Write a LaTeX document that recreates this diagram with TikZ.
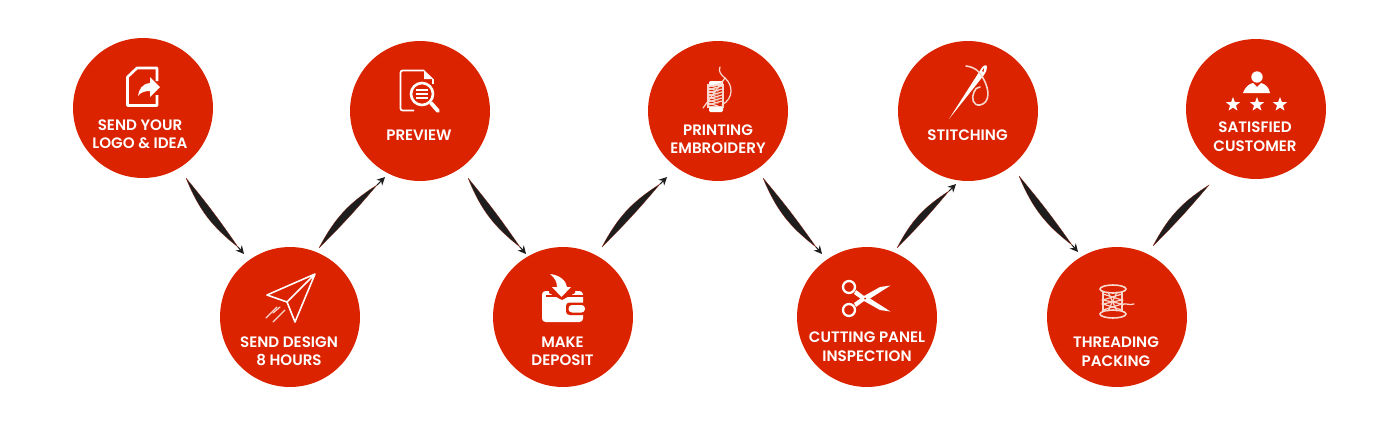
\documentclass[tikz,border=0pt]{standalone}
\usepackage{fontspec}
\setmainfont{Poppins}[BoldFont={Poppins SemiBold}]
\usetikzlibrary{arrows.meta,shapes.geometric}
\definecolor{stepred}{HTML}{DC2300}
\definecolor{swooshblack}{HTML}{1E1E1E}
\definecolor{threadpink}{HTML}{F8D8CE}
\begin{document}
\begin{tikzpicture}[x=0.02cm,y=-0.02cm,
  stepv/.style={circle, fill=stepred, minimum size=2.8cm, inner sep=0pt},
  stepl/.style={text=white, align=center, inner sep=0pt, font=\fontsize{8.6}{10.5}\selectfont\bfseries},
  swoosh/.style={fill=swooshblack, draw=stepred!70!black, line width=0.1pt},
  swooshtip/.style={draw=swooshblack, line width=0.6pt, -{Stealth[length=4.6pt,width=4.6pt]}},
  iconl/.style={draw=white, line width=1.5pt, line join=round},
  iconf/.style={fill=white},
  iconthin/.style={draw=threadpink, line width=0.7pt, line cap=round},
  iconstar/.style={star, star points=5, star point ratio=2.4, fill=white, minimum size=0.3cm, inner sep=0pt}]
  \useasboundingbox (0,0) rectangle (1400,440);

  \node[stepv] (send) at (143,108) {};
  \node[stepv] (design) at (290,317) {};
  \node[stepv] (preview) at (420,111) {};
  \node[stepv] (deposit) at (563,317) {};
  \node[stepv] (printing) at (718,111) {};
  \node[stepv] (cutting) at (867,317) {};
  \node[stepv] (stitching) at (968,111) {};
  \node[stepv] (threading) at (1117,317) {};
  \node[stepv] (satisfied) at (1256,109) {};

  \node[stepl] (lsend) at (140,134) {SEND YOUR\\LOGO \& IDEA};
  \node[stepl] (ldesign) at (289,351.5) {SEND DESIGN\\8 HOURS};
  \node[stepl] (lpreview) at (419,135) {PREVIEW};
  \node[stepl] (ldeposit) at (562.5,351.5) {MAKE\\DEPOSIT};
  \node[stepl] (lprinting) at (718,139) {PRINTING\\EMBROIDERY};
  \node[stepl] (lcutting) at (867,346.5) {CUTTING PANEL\\INSPECTION};
  \node[stepl] (lstitching) at (967.5,135) {STITCHING};
  \node[stepl] (lthreading) at (1116,351.5) {THREADING\\PACKING};
  \node[stepl] (lsatisfied) at (1255,136.5) {SATISFIED\\CUSTOMER};

  % connectors going down
  \coordinate (s1) at ([shift={(43,70)}]send.center);
  \coordinate (e1) at ([shift={(-52,-70)}]design.center);
  \coordinate (t1) at ([shift={(-46,-63)}]design.center);
  \fill[swoosh] (s1) to[bend right=15] (e1) to[bend right=2.5] (s1);
  \draw[swooshtip] (e1) -- (t1);

  \coordinate (s2) at ([shift={(48,67)}]preview.center);
  \coordinate (e2) at ([shift={(-43,-70)}]deposit.center);
  \coordinate (t2) at ([shift={(-37,-63)}]deposit.center);
  \fill[swoosh] (s2) to[bend right=15] (e2) to[bend right=2.5] (s2);
  \draw[swooshtip] (e2) -- (t2);

  \coordinate (s3) at ([shift={(45,67)}]printing.center);
  \coordinate (e3) at ([shift={(-51,-70)}]cutting.center);
  \coordinate (t3) at ([shift={(-45,-63)}]cutting.center);
  \fill[swoosh] (s3) to[bend right=15] (e3) to[bend right=2.5] (s3);
  \draw[swooshtip] (e3) -- (t3);

  \coordinate (s4) at ([shift={(51,65)}]stitching.center);
  \coordinate (e4) at ([shift={(-45,-72)}]threading.center);
  \coordinate (t4) at ([shift={(-39,-65)}]threading.center);
  \fill[swoosh] (s4) to[bend right=15] (e4) to[bend right=2.5] (s4);
  \draw[swooshtip] (e4) -- (t4);

  % connectors going up
  \coordinate (s5) at ([shift={(29,-69)}]design.center);
  \coordinate (e5) at ([shift={(-43,74)}]preview.center);
  \coordinate (t5) at ([shift={(-35,66)}]preview.center);
  \fill[swoosh] (s5) to[bend left=15] (e5) to[bend left=2.5] (s5);
  \draw[swooshtip] (e5) -- (t5);

  \coordinate (s6) at ([shift={(39,-70)}]deposit.center);
  \coordinate (e6) at ([shift={(-58,73)}]printing.center);
  \coordinate (t6) at ([shift={(-51,66)}]printing.center);
  \fill[swoosh] (s6) to[bend left=15] (e6) to[bend left=2.5] (s6);
  \draw[swooshtip] (e6) -- (t6);

  \coordinate (s7) at ([shift={(30,-69)}]cutting.center);
  \coordinate (e7) at ([shift={(-19,80)}]stitching.center);
  \coordinate (t7) at ([shift={(-12,73)}]stitching.center);
  \fill[swoosh] (s7) to[bend left=15] (e7) to[bend left=2.5] (s7);
  \draw[swooshtip] (e7) -- (t7);

  \coordinate (s8) at ([shift={(36,-71)}]threading.center);
  \coordinate (e8) at ([shift={(-47,76)}]satisfied.center);
  \fill[swoosh] (s8) to[bend left=15] (e8) to[bend left=2.5] (s8);

  % send icon
  \draw[iconl] (157,81) -- (157,68) -- (137,68) -- (127.5,77) -- (127.5,105.5) -- (157,105.5) -- (157,95);
  \fill[iconf] (160,87) -- (150,77) -- (150,83) .. controls (142,84) and (139,89) .. (138,96) .. controls (141,92) and (145,91) .. (150,91) -- (150,97) -- cycle;

  % plane icon
  \draw[iconl, line width=0.9pt] (315,274) -- (267,295) -- (287,302) -- (315,274) -- (295,322) -- (287,302);
  \draw[iconthin] (266,318) -- (277,307);
  \draw[iconthin] (273,322) -- (285,310);
  \draw[iconthin] (273,313) -- (280,307);

  % preview icon
  \draw[iconl, line width=1pt, rounded corners=1.2pt] (424,70.5) -- (400.5,70.5) -- (400.5,110.5) -- (414,110.5);
  \draw[iconl, line width=1pt] (433,84) -- (433,79);
  \fill[iconf] (424,70) -- (433.5,79) -- (424,79) -- cycle;
  \draw[iconl] (422,94) circle (11);
  \draw[iconl, line width=2.2pt, line cap=round] (431,103) -- (438,111);
  \foreach \ly in {90,94,98} {
    \draw[iconl, line width=0.8pt] (416,\ly) -- (428,\ly);
  }

  % wallet icon
  \fill[iconf, rounded corners=2pt] (542,291) rectangle (583,322);
  \draw[stepred, line width=0.8pt] (546,296) -- (583.5,296);
  \fill[stepred] (549,287) -- (575,287) -- (575,293) -- (562,300) -- (549,293) -- cycle;
  \fill[iconf] (550,274) .. controls (559,275) and (566,280) .. (567,287) -- (571,287) -- (561.5,297) -- (552,287) -- (557,287) .. controls (557,282) and (555,278) .. (550,274) -- cycle;
  \fill[stepred, rounded corners=2pt] (566,302.5) rectangle (586,315);
  \fill[iconf, rounded corners=2pt] (568.5,305) rectangle (585,312.5);

  % spool with needle icon
  \draw[iconthin] (708,85) rectangle (723,107);
  \fill[iconf, rounded corners=0.8pt] (709,81) rectangle (723,85);
  \fill[iconf, rounded corners=0.8pt] (709,107) rectangle (723,112);
  \foreach \ly in {87,90,...,107} {
    \draw[iconthin] (708,\ly) -- (722,\ly-4);
    \draw[iconthin] (708,\ly-2) -- (718,\ly+1);
  }
  \draw[iconthin] (703,108) -- (725,78);
  \draw[iconthin] (720,67) .. controls (718,71) and (721,75) .. (725,78) .. controls (733,85) and (734,98) .. (722,105);

  % scissors icon
  \draw[iconl, line width=1.3pt] (849,287) circle (6);
  \draw[iconl, line width=1.3pt] (849,310) circle (6);
  \fill[iconf] (854,303) -- (864,296) -- (880,287) -- (890.5,285.5) -- (870,298.5) -- (864,301) -- (856,307) -- cycle;
  \fill[iconf] (854,294) -- (864,301) -- (880,310) -- (890.5,311.5) -- (870,298.5) -- (864,296) -- (856,290) -- cycle;
  \fill[stepred] (865,298.5) circle (1);

  % needle icon
  \fill[iconf] (949,119) -- (981,69) .. controls (983,65) and (987,64) .. (987,67) .. controls (987,70) and (986,72) .. (984,75) -- cycle;
  \fill[stepred] (982,71) -- (984,68) -- (983.5,72) -- cycle;
  \draw[iconthin, line width=0.9pt] (966,66) .. controls (975,67) and (980,72) .. (983,78) .. controls (990,90) and (990,103) .. (980,105) .. controls (973,106) and (971,98) .. (974,92) .. controls (975,89) and (977,87) .. (980,87);

  % thread spool icon
  \draw[iconthin, line width=0.9pt] (1113,289) ellipse (13 and 4);
  \draw[iconthin, line width=0.9pt] (1113,314) ellipse (13 and 4);
  \draw[iconthin] (1103,292) -- (1103,311);
  \draw[iconthin] (1122,292) -- (1122,311);
  \draw[iconthin] (1103,294) -- (1122,300) -- (1103,304) -- (1122,310);
  \draw[iconthin] (1122,294) -- (1103,300) -- (1122,304) -- (1103,310);
  \draw[iconthin] (1108,292) -- (1117,311);
  \draw[iconthin] (1117,292) -- (1108,311);
  \draw[iconthin] (1122,305) .. controls (1126,302) and (1128,306) .. (1134,304);

  % customer icon
  \fill[iconf] (1257,77) circle (5.7);
  \fill[iconf] (1243,93) .. controls (1245,87) and (1249,84) .. (1253,83) -- (1257,87) -- (1261,83) .. controls (1265,84) and (1269,87) .. (1270,93) -- cycle;
  \foreach \sx in {1233,1257,1280} {
    \node[iconstar] (star\sx) at (\sx,104.5) {};
  }
\end{tikzpicture}
\end{document}
